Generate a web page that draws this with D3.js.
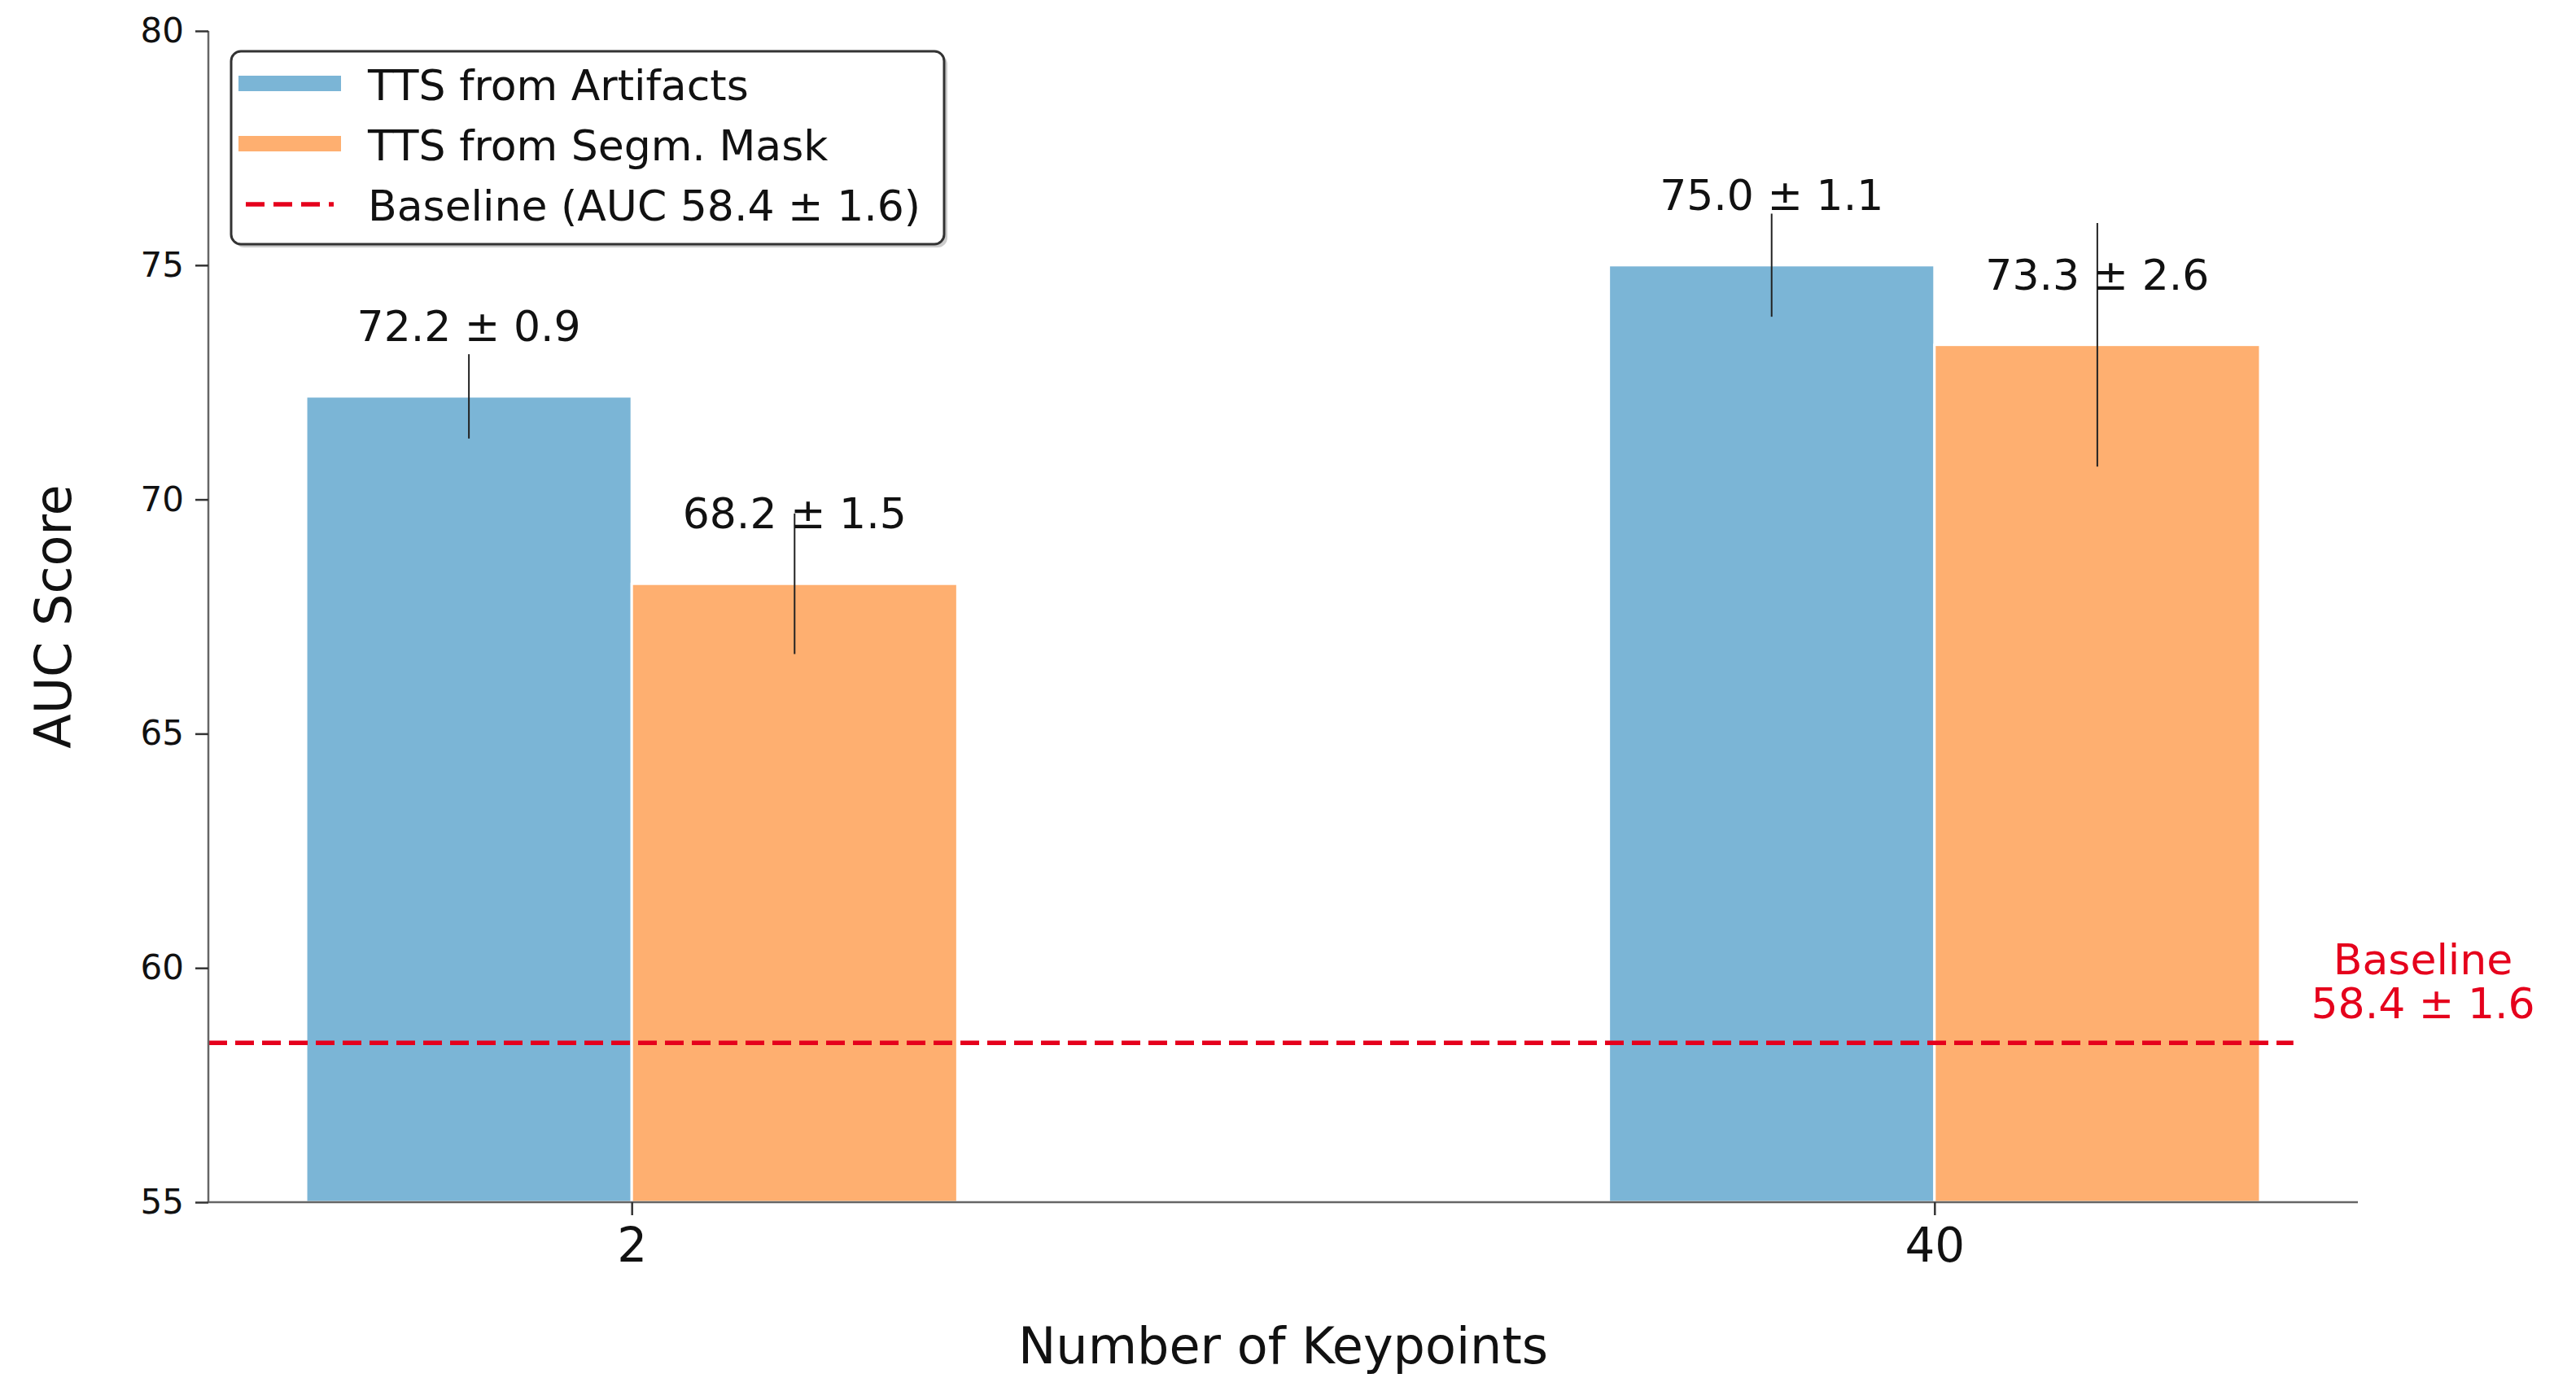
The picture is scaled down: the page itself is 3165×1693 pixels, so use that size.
<!DOCTYPE html>
<html>
<head>
<meta charset="utf-8">
<script src="https://cdn.jsdelivr.net/npm/d3@7"></script>
<style>
  body { margin: 0; background: #fff; }
  svg { display: block; font-family: "DejaVu Sans", sans-serif; }
</style>
</head>
<body>
<script>
const keypoints = ['2', '40'];
const seriesNames = ['TTS from Artifacts', 'TTS from Segm. Mask'];
const artifactMeans = [72.2, 75.0];
const artifactStds = [0.9, 1.1];
const maskMeans = [68.2, 73.3];
const maskStds = [1.5, 2.6];
const baselineMean = 58.4;
const baselineStd = 1.6;
const yTicks = [55, 60, 65, 70, 75, 80];

const width = 3165;
const height = 1693;
const colors = ['#7bb5d6', '#feaf70'];
const red = '#e5001c';
const barWidth = 0.25;

const svg = d3.select('body')
  .append('svg')
    .attr('width', width)
    .attr('height', height);

// category index -> px, same padding as matplotlib auto margins
const x = d3.scaleLinear().domain([-0.325, 1.325]).range([256, 2897]);
const y = d3.scaleLinear().domain([55, 80]).range([1477, 38]);

const bars = [];
keypoints.forEach((k, i) => {
  bars.push({ pos: i - barWidth / 2, mean: artifactMeans[i], std: artifactStds[i], color: colors[0] });
  bars.push({ pos: i + barWidth / 2, mean: maskMeans[i], std: maskStds[i], color: colors[1] });
});

svg.append('g')
  .selectAll('rect')
  .data(bars)
  .join('rect')
    .attr('x', d => x(d.pos - barWidth / 2))
    .attr('y', d => y(d.mean))
    .attr('width', d => x(d.pos + barWidth / 2) - x(d.pos - barWidth / 2))
    .attr('height', d => y(55) - y(d.mean))
    .attr('fill', d => d.color)
    .attr('stroke', '#fff')
    .attr('stroke-width', 3);

// error bars, no caps
svg.append('g')
  .selectAll('line')
  .data(bars)
  .join('line')
    .attr('x1', d => x(d.pos))
    .attr('x2', d => x(d.pos))
    .attr('y1', d => y(d.mean - d.std))
    .attr('y2', d => y(d.mean + d.std))
    .attr('stroke', '#222')
    .attr('stroke-width', 2);

// value labels
svg.append('g')
  .selectAll('text')
  .data(bars)
  .join('text')
    .attr('x', d => x(d.pos))
    .attr('y', d => y(d.mean + 1.18))
    .attr('text-anchor', 'middle')
    .attr('font-size', 52)
    .attr('fill', '#111')
    .text(d => `${d.mean.toFixed(1)} ± ${d.std.toFixed(1)}`);

// baseline
const xDomain = x.domain();
const baselineEnd = xDomain[0] + 0.97 * (xDomain[1] - xDomain[0]);
svg.append('line')
  .attr('x1', x(xDomain[0]))
  .attr('x2', x(baselineEnd))
  .attr('y1', y(baselineMean))
  .attr('y2', y(baselineMean))
  .attr('stroke', red)
  .attr('stroke-width', 5.5)
  .attr('stroke-dasharray', '23 10');

const baseText = svg.append('text')
  .attr('text-anchor', 'middle')
  .attr('font-size', 52)
  .attr('fill', red);
baseText.append('tspan')
  .attr('x', x(1.375))
  .attr('y', y(baselineMean + 0.53) - 54)
  .text('Baseline');
baseText.append('tspan')
  .attr('x', x(1.375))
  .attr('y', y(baselineMean + 0.53))
  .text(`${baselineMean.toFixed(1)} ± ${baselineStd.toFixed(1)}`);

// axes
const yAxis = svg.append('g')
  .attr('transform', `translate(${x(xDomain[0])},0)`)
  .call(d3.axisLeft(y).tickValues(yTicks).tickSize(16).tickPadding(14));
yAxis.selectAll('text').attr('font-size', 42).attr('fill', '#111').attr('font-family', 'DejaVu Sans');

const xAxis = svg.append('g')
  .attr('transform', `translate(0,${y(55)})`)
  .call(d3.axisBottom(x).tickValues([0, 1]).tickFormat(i => keypoints[i]).tickSize(16).tickPadding(16));
xAxis.selectAll('text').attr('font-size', 58).attr('fill', '#111').attr('font-family', 'DejaVu Sans');

[yAxis, xAxis].forEach(ax => {
  ax.select('.domain').attr('stroke', '#666').attr('stroke-width', 2.5);
  ax.selectAll('.tick line').attr('stroke', '#333').attr('stroke-width', 2.5);
});
xAxis.select('.domain').attr('d', `M${x(xDomain[0])},0H${x(xDomain[1])}`);
yAxis.select('.domain').attr('d', `M0,${y(55)}V${y(80)}`);

svg.append('text')
  .attr('x', (x(xDomain[0]) + x(xDomain[1])) / 2)
  .attr('y', 1675)
  .attr('text-anchor', 'middle')
  .attr('font-size', 62)
  .attr('fill', '#111')
  .text('Number of Keypoints');

svg.append('text')
  .attr('transform', `translate(87,${(y(55) + y(80)) / 2}) rotate(-90)`)
  .attr('text-anchor', 'middle')
  .attr('font-size', 62)
  .attr('fill', '#111')
  .text('AUC Score');

// legend
const legend = svg.append('g').attr('transform', 'translate(284,63)');
legend.append('rect')
  .attr('x', 4).attr('y', 4)
  .attr('width', 876).attr('height', 237)
  .attr('rx', 12)
  .attr('fill', '#999')
  .attr('opacity', 0.5);
legend.append('rect')
  .attr('width', 876).attr('height', 237)
  .attr('rx', 12)
  .attr('fill', '#fff')
  .attr('stroke', '#333')
  .attr('stroke-width', 3);

const legendItems = [
  { label: seriesNames[0], color: colors[0], type: 'patch' },
  { label: seriesNames[1], color: colors[1], type: 'patch' },
  { label: `Baseline (AUC ${baselineMean.toFixed(1)} ± ${baselineStd.toFixed(1)})`, color: red, type: 'dash' }
];

const item = legend.selectAll('.item')
  .data(legendItems)
  .join('g')
    .attr('class', 'item')
    .attr('transform', (d, i) => `translate(0,${40 + i * 74})`);

item.filter(d => d.type === 'patch')
  .append('rect')
    .attr('x', 9).attr('y', -10)
    .attr('width', 126).attr('height', 19)
    .attr('fill', d => d.color);

item.filter(d => d.type === 'dash')
  .append('line')
    .attr('x1', 18).attr('x2', 126)
    .attr('stroke', d => d.color)
    .attr('stroke-width', 5.5)
    .attr('stroke-dasharray', '23 11');

item.append('text')
  .attr('x', 168)
  .attr('y', 20)
  .attr('font-size', 52)
  .attr('fill', '#111')
  .text(d => d.label);
</script>
</body>
</html>
